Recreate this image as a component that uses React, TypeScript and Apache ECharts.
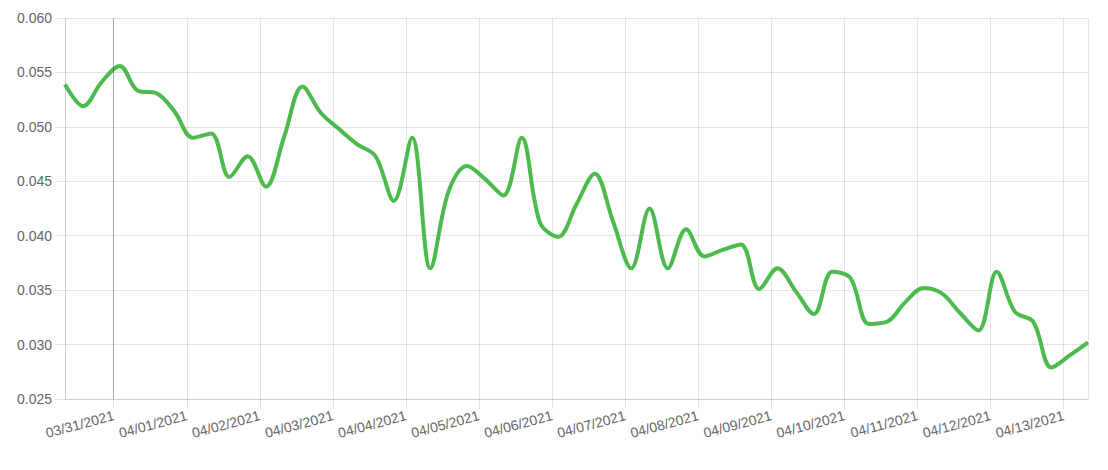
import React, { useEffect, useRef } from "react";
import * as echarts from "echarts";

// Sampling: every 6 hours, starting 2021-03-30 08:00
const startTime = "2021-03-30T08:00:00";
const stepHours = 6;
const endTime = "2021-04-13T08:00:00";
const highlightTime = "2021-03-31T00:00:00";

const values: number[] = [
  0.0539, 0.0519, 0.0541, 0.0556, 0.0533, 0.0531, 0.0514, 0.049, 0.0494, 0.0454,
  0.0473, 0.0445, 0.0491, 0.0537, 0.0513, 0.0498, 0.0484, 0.0473, 0.0432, 0.049,
  0.037, 0.0441, 0.0464, 0.0452, 0.0437, 0.049, 0.0412, 0.0399, 0.0429, 0.0457,
  0.0413, 0.037, 0.0425, 0.037, 0.0406, 0.0381, 0.0387, 0.0392, 0.0351, 0.037,
  0.0349, 0.0328, 0.0367, 0.0361, 0.0319, 0.0321, 0.0339, 0.0352, 0.0347, 0.0329,
  0.0313, 0.0367, 0.033, 0.0321, 0.0279, 0.029, 0.0302,
];

const yMin = 0.025;
const yMax = 0.06;
const yStep = 0.005;

export default function App() {
  const ref = useRef<HTMLDivElement>(null);
  useEffect(() => {
    if (!ref.current) return;
    const chart = echarts.init(ref.current, undefined, { renderer: "svg" });
    const t0 = new Date(startTime).getTime();
    const data = values.map((v, i) => [t0 + i * stepHours * 3600 * 1000, v]);
    const gridColor = "rgba(0,0,0,0.1)";
    const font = "Liberation Sans, Arial, Helvetica, sans-serif";
    chart.setOption({
      animation: false,
      grid: { left: 65, right: 20, top: 18, bottom: 71, containLabel: false },
      xAxis: {
        type: "time",
        min: new Date(startTime).getTime(),
        max: new Date(endTime).getTime(),
        minInterval: 86400000,
        maxInterval: 86400000,
        axisLine: { show: true, lineStyle: { color: gridColor } },
        axisTick: { show: true, length: 10, lineStyle: { color: gridColor } },
        splitLine: { show: true, lineStyle: { color: gridColor } },
        axisLabel: {
          rotate: 15,
          margin: 16,
          color: "#666",
          fontSize: 14,
          fontFamily: font,
          showMinLabel: false,
          showMaxLabel: false,
          hideOverlap: false,
          formatter: "{MM}/{dd}/{yyyy}",
        },
      },
      yAxis: {
        type: "value",
        min: yMin,
        max: yMax,
        interval: yStep,
        axisLine: { show: true, lineStyle: { color: gridColor } },
        axisTick: { show: true, length: 10, lineStyle: { color: gridColor } },
        splitLine: { show: true, lineStyle: { color: gridColor } },
        axisLabel: {
          margin: 13,
          color: "#666",
          fontSize: 14,
          fontFamily: font,
          formatter: (v: number) => v.toFixed(3),
        },
      },
      series: [
        {
          type: "line",
          data,
          smooth: 0.35,
          showSymbol: false,
          lineStyle: { color: "#4cba4c", width: 4 },
          itemStyle: { color: "#4cba4c" },
          markLine: {
            silent: true,
            symbol: "none",
            label: { show: false },
            lineStyle: { color: "rgba(0,0,0,0.25)", width: 1, type: "solid" },
            data: [{ xAxis: new Date(highlightTime).getTime() }],
          },
        },
      ],
    });
    return () => chart.dispose();
  }, []);
  return (
    <div
      ref={ref}
      style={{ position: "absolute", left: 0, top: 0, width: 1108, height: 470 }}
    />
  );
}
